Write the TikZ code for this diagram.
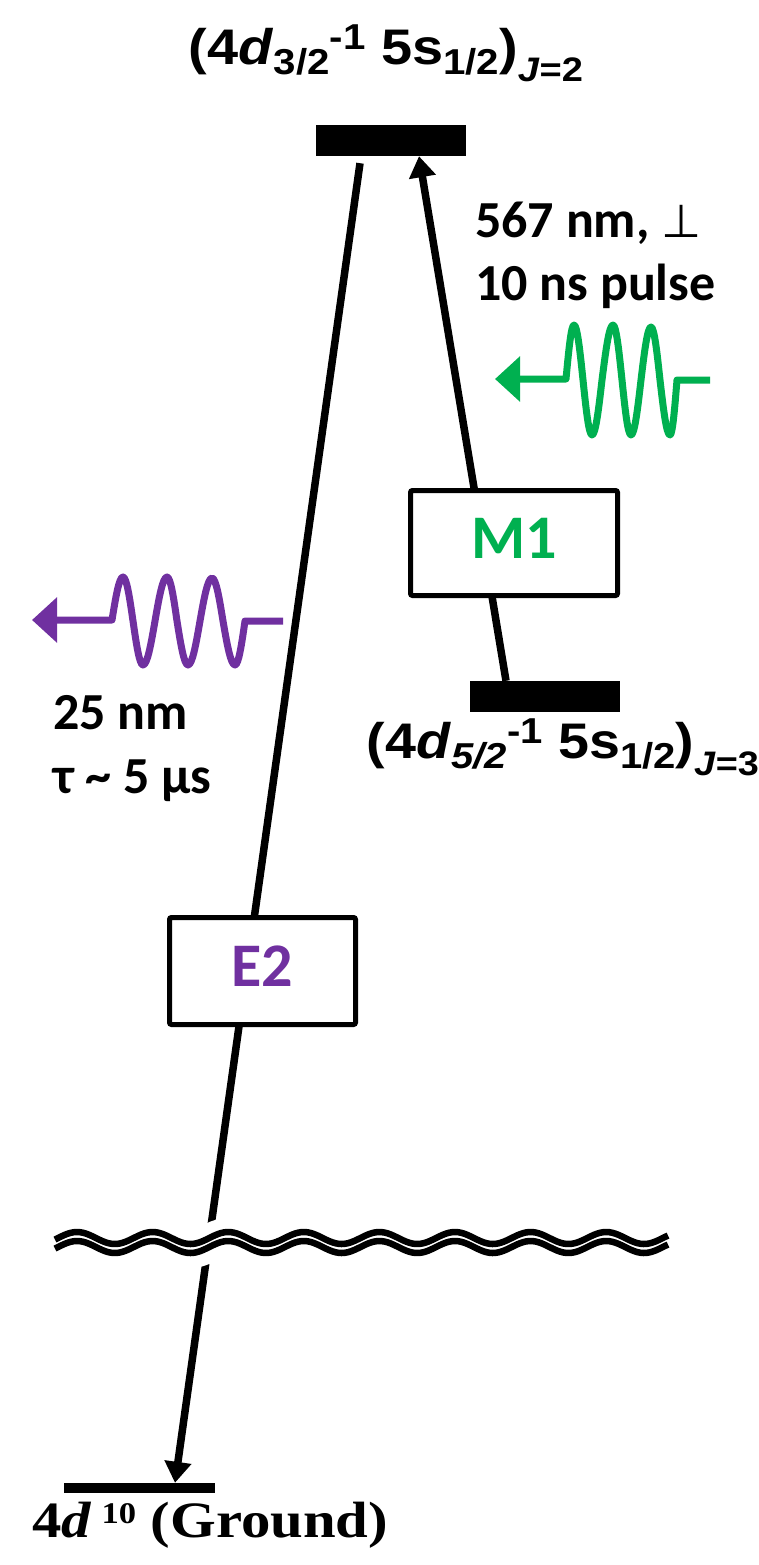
\documentclass[tikz,border=0pt]{standalone}
\usepackage{fontspec}
\usepackage{graphicx}
\usetikzlibrary{arrows.meta}
\newfontfamily\arialf{Liberation Sans}
\newfontfamily\timesf{Liberation Serif}
\newfontfamily\calibrif{Carlito}
\newfontfamily\dejavuf{DejaVu Sans}
\definecolor{mgreen}{HTML}{00B050}
\definecolor{mpurple}{HTML}{7030A0}
\newcommand{\subtx}[2]{\raisebox{#1}{\fontsize{36}{36}\selectfont #2}}
\newcommand{\lvltext}[2]{{\arialf\bfseries\fontsize{50}{55}\selectfont (4\textit{d}\subtx{-10pt}{#1}\subtx{15pt}{-1} 5s\subtx{-10pt}{1/2})\raisebox{-17pt}{\fontsize{34}{34}\selectfont\textit{J}=#2}}}
\begin{document}
\begin{tikzpicture}[x=1pt,y=-1pt,
  levelbar/.style={fill=black, draw=none, inner sep=0pt},
  tbox/.style={draw=black, line width=5pt, fill=white, rounded corners=2pt, inner sep=0pt,
    text height=40pt, text depth=10pt, font=\calibrif\bfseries\fontsize{62}{62}\selectfont},
  conn/.style={line width=7.5pt},
  blacktip/.style={-{Triangle[length=21pt,width=26pt]}},
  wavetip/.style={{Triangle[length=25pt,width=44pt]}-},
  photon/.style={line width=7pt, line join=round},
  calib/.style={anchor=base west, inner sep=0pt, font=\calibrif\bfseries\fontsize{52}{56}\selectfont},
  brk/.style={line width=6.5pt}
]
\useasboundingbox (0,0) rectangle (759,1565);
\fill[white] (0,0) rectangle (759,1565);

% level bars
\node[levelbar, minimum width=150pt, minimum height=31pt] (upper) at (391,140.5) {};
\node[levelbar, minimum width=150pt, minimum height=31pt] (lower) at (545,696.5) {};
\node[levelbar, minimum width=151pt, minimum height=10pt] (gnd) at (139.5,1488) {};

% level labels
\node[anchor=base, inner sep=0pt] (toplabel) at (386,65) {\resizebox{394pt}{\height}{\lvltext{3/2}{2}}};
\node[anchor=base, inner sep=0pt] (lowlabel) at (563,758) {\resizebox{392pt}{\height}{\lvltext{\textit{5/2}}{3}}};
\node[anchor=base west, inner sep=0pt] (gndlabel) at (32,1537) {\resizebox{356pt}{\height}{\timesf\bfseries\fontsize{51}{55}\selectfont 4\textit{d}\,\raisebox{14pt}{\fontsize{30}{30}\selectfont 10} (Ground)}};

% connector end points
\coordinate (e2start) at ([xshift=-31pt,yshift=-7pt]upper.south);
\coordinate (e2end) at ([xshift=35.5pt]gnd.north);
\coordinate (m1start) at ([xshift=-39pt]lower.north);
\coordinate (m1end) at ([xshift=28pt]upper.south);

% transitions
\draw[conn, blacktip] (e2start) -- (e2end);
\draw[conn, blacktip] (m1start) -- (m1end);

% break marks
\draw[white, line width=38pt] plot[domain=48:675, samples=160] (\x,{1243-6*cos((\x-77)*4.7619)});
\draw[brk] plot[domain=55:668, samples=200] (\x,{1238-6*cos((\x-77)*4.7619)});
\draw[brk] plot[domain=55:668, samples=200] (\x,{1247-6*cos((\x-77)*4.7619)});

% multipole boxes
\node[tbox, minimum width=207pt, minimum height=105pt, text=mgreen] (m1) at (514,543) {M1};
\node[tbox, minimum width=186pt, minimum height=107pt, text=mpurple] (e2) at (262.5,971) {E2};

% photons
\draw[mgreen, photon, wavetip] (495,379) -- (566,379) sin (574,325) cos (583,380) sin (592,435) cos (602,380)
  sin (613,325) cos (622,380) sin (631,435) cos (641,380) sin (651,327) cos (660,380) sin (670,435) cos (677,380) -- (710,380);
\draw[mpurple, photon, wavetip] (32,620) -- (112,620) sin (123,577) cos (133,621) sin (143,665) cos (155,621)
  sin (167,577) cos (177,621) sin (188,665) cos (200,621) sin (212,578) cos (223,621) sin (235,665) cos (245,621) -- (283,621);

% annotations
\node[calib] (t567) at (475,237) {567 nm, {\dejavuf\mdseries\fontsize{46}{46}\selectfont ⊥}};
\node[calib] (t10ns) at (475,300) {10 ns pulse};
\node[calib] (t25) at (53,729) {25 nm};
\node[calib] (ttau) at (53,793) {τ \char`\~{} 5 μs};
\end{tikzpicture}
\end{document}
